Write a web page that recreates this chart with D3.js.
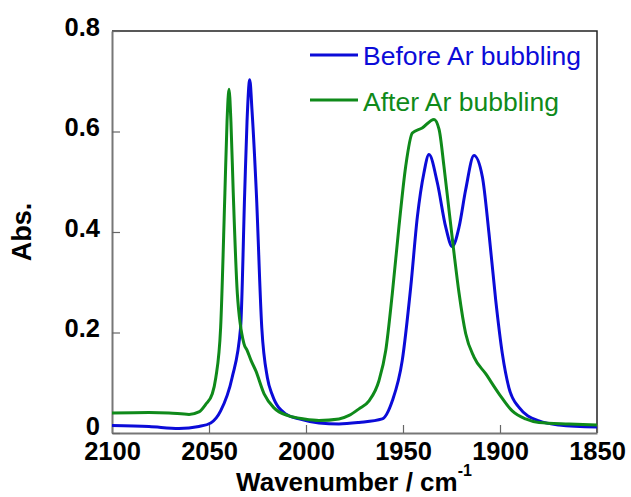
<!DOCTYPE html>
<html>
<head>
<meta charset="utf-8">
<script src="https://cdn.jsdelivr.net/npm/d3@7"></script>
<style>
	body { margin: 0; background: white; }
	text { font-family: Arial, "Liberation Sans", sans-serif; }
</style>
</head>
<body>
<svg id="chart" width="631" height="497"></svg>
<script>

// wavenumber (cm-1)
let beforeWn = [2100, 2080.9, 2065.5, 2055.2, 2049.1, 2044.0, 2038.1, 2033.7, 2031.6, 2030.4, 2029.0, 2027.8, 2025.6, 2022.8, 2019.9, 2017.5, 2010.5, 2003.6, 1993.3, 1983.0, 1972.7, 1960.7, 1955.5, 1950.4, 1946.0, 1942.6, 1939.2, 1936.6, 1932.3, 1928.0, 1924.6, 1921.1, 1917.7, 1913.4, 1909.1, 1905.7, 1902.2, 1898.8, 1895.4, 1890.2, 1879.9, 1869.6, 1850];
let beforeAbs = [0.015, 0.013, 0.009, 0.013, 0.02, 0.044, 0.11, 0.21, 0.478, 0.62, 0.703, 0.64, 0.478, 0.21, 0.11, 0.077, 0.038, 0.028, 0.02, 0.018, 0.021, 0.028, 0.064, 0.144, 0.291, 0.43, 0.518, 0.554, 0.498, 0.41, 0.371, 0.41, 0.484, 0.552, 0.51, 0.398, 0.264, 0.158, 0.09, 0.051, 0.024, 0.016, 0.012];

let afterWn = [2100, 2080.9, 2070.6, 2060.3, 2055.2, 2051.7, 2048.3, 2046.5, 2044.0, 2041.8, 2040.7, 2039.7, 2038.7, 2037.5, 2035.4, 2032.0, 2030.3, 2028.4, 2025.9, 2021.6, 2016.5, 2008.8, 2001.0, 1993.3, 1983.0, 1977.8, 1972.7, 1967.5, 1962.4, 1958.9, 1955.5, 1952.1, 1948.6, 1945.2, 1940.1, 1934.0, 1931.4, 1928.9, 1926.3, 1923.7, 1921.1, 1917.7, 1913.4, 1907.4, 1900.5, 1893.7, 1886.8, 1879.9, 1864.4, 1850];
let afterAbs = [0.040, 0.041, 0.040, 0.037, 0.042, 0.057, 0.078, 0.11, 0.21, 0.478, 0.62, 0.684, 0.62, 0.478, 0.278, 0.178, 0.164, 0.145, 0.124, 0.078, 0.05, 0.034, 0.028, 0.025, 0.028, 0.035, 0.048, 0.064, 0.104, 0.164, 0.278, 0.41, 0.531, 0.597, 0.607, 0.624, 0.604, 0.531, 0.444, 0.358, 0.278, 0.198, 0.151, 0.118, 0.078, 0.044, 0.028, 0.021, 0.018, 0.016];

let xTicks = [2100, 2050, 2000, 1950, 1900, 1850];
let yTicks = [0, 0.2, 0.4, 0.6, 0.8];
let seriesNames = ["Before Ar bubbling", "After Ar bubbling"];
let seriesColors = ["#0b0bd8", "#0f8a1a"];

const PLOT_LEFT = 112;
const PLOT_RIGHT = 597;
const PLOT_TOP = 31;
const PLOT_BOTTOM = 433;
const TICK_LEN = 8;

let x = d3.scaleLinear().domain([2100, 1850]).range([PLOT_LEFT, PLOT_RIGHT]);
let y = d3.scaleLinear().domain([0, 0.8]).range([PLOT_BOTTOM, PLOT_TOP]);

let svg = d3.select("svg#chart");

// frame: top and right in black
svg.append("path")
	.attr("d", "M" + PLOT_LEFT + "," + PLOT_TOP + "H" + PLOT_RIGHT + "V" + PLOT_BOTTOM)
	.attr("fill", "none")
	.attr("stroke", "#222")
	.attr("stroke-width", 1.5)
	;

// bottom axis, ticks inward
let xAxis = svg.append("g")
	.attr("transform", "translate(0," + PLOT_BOTTOM + ")")
	.call(d3.axisBottom(x).tickValues(xTicks).tickSizeInner(-TICK_LEN).tickSizeOuter(0).tickPadding(4).tickFormat(d3.format("d")))
	;
xAxis.select(".domain").attr("stroke", "#777").attr("stroke-width", 2);
xAxis.selectAll(".tick line").attr("stroke", "#666").attr("stroke-width", 1.2);
xAxis.selectAll(".tick text")
	.attr("y", 27)
	.attr("dy", 0)
	.style("font-size", "25.5px")
	.style("font-weight", "bold")
	.attr("fill", "black")
	;

// left axis, ticks inward
let yAxis = svg.append("g")
	.attr("transform", "translate(" + PLOT_LEFT + ",0)")
	.call(d3.axisLeft(y).tickValues(yTicks).tickSizeInner(-TICK_LEN).tickSizeOuter(0).tickFormat(d => d === 0 ? "0" : d3.format(".1f")(d)))
	;
yAxis.select(".domain").attr("stroke", "#777").attr("stroke-width", 2);
yAxis.selectAll(".tick line").attr("stroke", "#666").attr("stroke-width", 1.2);
yAxis.selectAll(".tick text")
	.attr("x", -12)
	.attr("dy", d => d === 0 ? 1 : 4)
	.style("font-size", "25.5px")
	.style("font-weight", "bold")
	.attr("fill", "black")
	;

// spectra
let line = d3.line()
	.x(d => x(d[0]))
	.y(d => y(d[1]))
	.curve(d3.curveMonotoneX)
	;

let spectra = [
	d3.zip(beforeWn, beforeAbs),
	d3.zip(afterWn, afterAbs)
];

spectra.forEach(function(s, i) {
	svg.append("path")
		.datum(s)
		.attr("d", line)
		.attr("fill", "none")
		.attr("stroke", seriesColors[i])
		.attr("stroke-width", 3)
		.attr("stroke-linejoin", "round")
		;
});

// legend
seriesNames.forEach(function(name, i) {
	svg.append("line")
		.attr("x1", 310)
		.attr("x2", 358)
		.attr("y1", 55 + i * 45)
		.attr("y2", 55 + i * 45)
		.attr("stroke", seriesColors[i])
		.attr("stroke-width", 3)
		;
	svg.append("text")
		.text(name)
		.attr("x", 363)
		.attr("y", 65 + i * 46)
		.style("font-size", "26.5px")
		.attr("fill", seriesColors[i])
		;
});

// axis titles
let xTitle = svg.append("text")
	.attr("x", 354)
	.attr("y", 491)
	.attr("text-anchor", "middle")
	.style("font-size", "26px")
	.style("font-weight", "bold")
	;
xTitle.append("tspan").text("Wavenumber / cm");
xTitle.append("tspan")
	.text("-1")
	.attr("dy", -15)
	.style("font-size", "16px")
	;

svg.append("text")
	.text("Abs.")
	.attr("transform", "translate(31,232) rotate(-90)")
	.attr("text-anchor", "middle")
	.style("font-size", "27px")
	.style("font-weight", "bold")
	;

</script>
</body>
</html>
